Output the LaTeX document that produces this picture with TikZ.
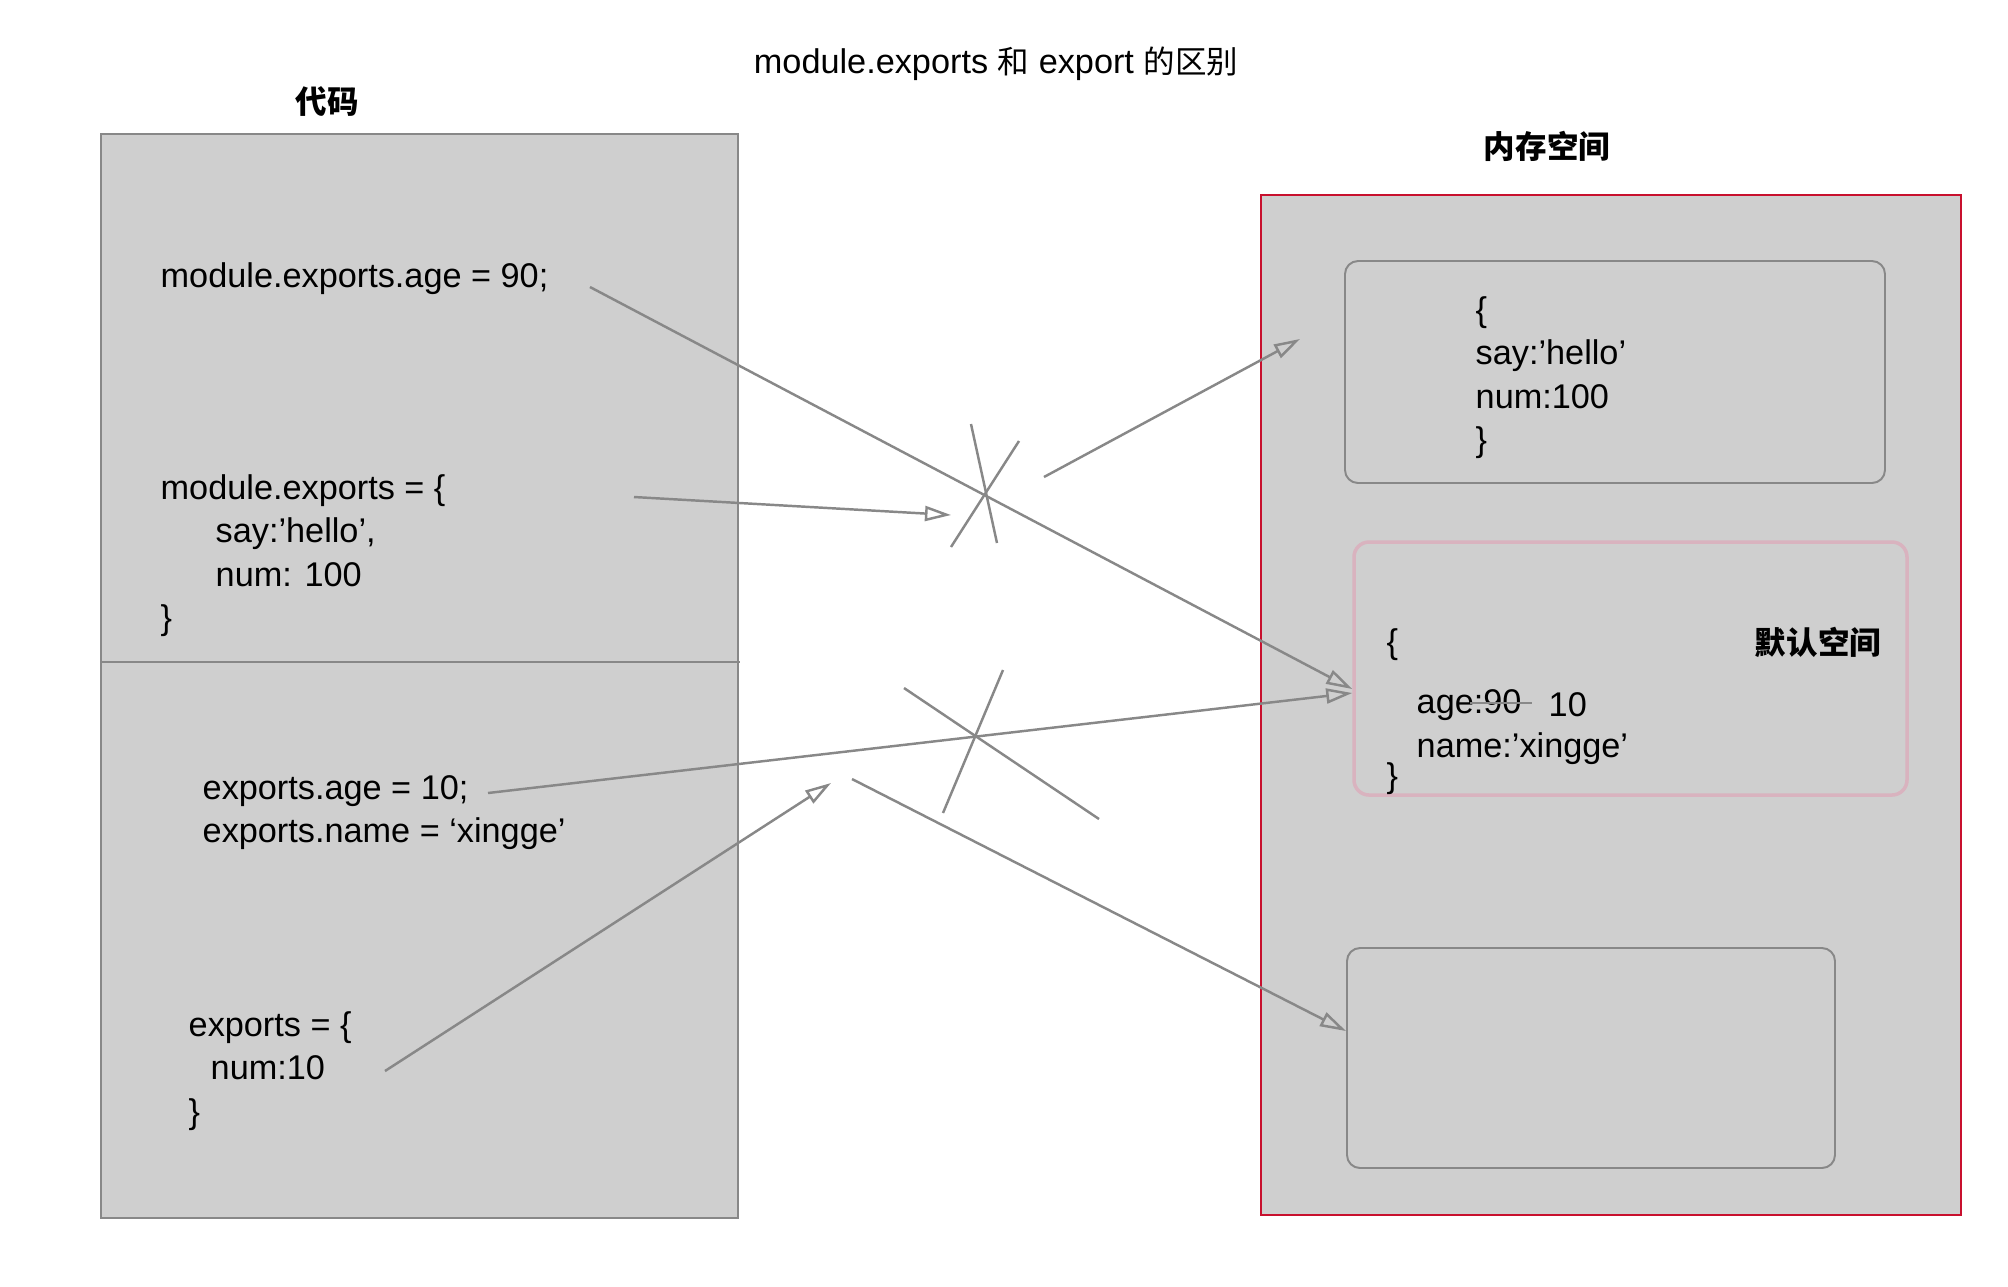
\documentclass[tikz,border=0pt]{standalone}
\usepackage{fontspec}
\setmainfont{Liberation Sans}
\newfontfamily\cjk[Scale=0.92]{Noto Sans CJK SC}
\usetikzlibrary{arrows.meta, positioning}

\definecolor{panelgray}{HTML}{CFCFCF}
\definecolor{linegray}{HTML}{888888}
\definecolor{memred}{HTML}{C8102E}
\definecolor{defpink}{HTML}{D9B3BF}

\begin{document}
\begin{tikzpicture}[
  every node/.style={font=\fontsize{9.75}{12.4}\selectfont},
  panel/.style={draw=linegray, line width=0.55pt, fill=panelgray, inner sep=0pt},
  membox/.style={draw=memred, line width=0.7pt, fill=panelgray, inner sep=0pt},
  objbox/.style={draw=linegray, line width=0.55pt, rounded corners=1.3mm, inner sep=0pt},
  defbox/.style={objbox, draw=defpink, line width=1pt, rounded corners=1.5mm},
  src/.style={anchor=west, align=left, inner sep=0pt, yshift=-0.4mm},
  lbl/.style={inner sep=0pt, yshift=-0.4mm},
  flow/.style={-{Triangle[open, length=2.6mm, width=1.5mm]}, draw=linegray, line width=0.7pt},
  cross/.style={draw=linegray, line width=0.7pt}
]
\useasboundingbox (0,0) rectangle (20.08,-12.86);

% titles
\node[lbl] (title) at (9.96,-0.60) {module.exports {\cjk 和} export {\cjk 的区别}};
\node[lbl] (codetitle) at (3.27,-0.98) {\cjk\bfseries 代码};
\node[lbl] (memtitle) at (15.47,-1.42) {\cjk\bfseries 内存空间};

% code panel
\node[panel, minimum width=6.37cm, minimum height=10.84cm] (code) at (4.195,-6.76) {};
\draw[draw=linegray, line width=0.55pt] (1.01,-6.62) -- (7.40,-6.62);

\node[src] (mage) at (1.60,-2.75) {module.exports.age = 90;};
\node[src] (mobj) at (1.60,-5.515) {module.exports = \{\\
\hspace*{0.55cm}say:’hello’,\\
\hspace*{0.55cm}num: 100\\
\}};
\node[src] (eage) at (2.02,-8.085) {exports.age = 10;\\
exports.name = ‘xingge’};
\node[src] (eobj) at (1.88,-10.67) {exports = \{\\
\hspace*{0.22cm}num:10\\
\}};

% memory panel
\node[membox, minimum width=7.00cm, minimum height=10.20cm] (mem) at (16.11,-7.05) {};
\node[objbox, minimum width=5.40cm, minimum height=2.22cm] (newobj) at (16.15,-3.72) {};
\node[defbox, minimum width=5.53cm, minimum height=2.53cm] (defobj) at (16.305,-6.685) {};
\node[objbox, minimum width=4.88cm, minimum height=2.20cm] (emptyobj) at (15.91,-10.58) {};

\node[src] (newtxt) at (14.75,-3.735) {\{\\
say:’hello’\\
num:100\\
\}};
\node[src] (open) at (13.86,-6.41) {\{};
\node[src] (age) at (14.16,-7.01) {age:90};
\node[src] (ten) at (15.48,-7.01) {10};
\node[src] (name) at (14.16,-7.45) {name:’xingge’};
\node[src] (close) at (13.86,-7.75) {\}};
\node[lbl] (deftitle) at (18.18,-6.38) {\cjk\bfseries 默认空间};
\draw[cross] (14.70,-7.03) -- (15.32,-7.03);

% free ends
\coordinate (s1) at (5.90,-2.87);
\coordinate (s2) at (6.34,-4.97);
\coordinate (t2) at (9.51,-5.15);
\coordinate (s3) at (10.44,-4.77);
\coordinate (t3) at (13.00,-3.39);
\coordinate (s5) at (4.88,-7.93);
\coordinate (s6) at (3.85,-10.71);
\coordinate (t6) at (8.31,-7.83);
\coordinate (s7) at (8.52,-7.79);

% arrows
\draw[flow] (s1) -- ([yshift=-0.205cm]defobj.west);
\draw[flow] (s2) -- (t2);
\draw[flow] (s3) -- (t3);
\draw[flow] (s5) -- ([yshift=-0.245cm]defobj.west);
\draw[flow] (s6) -- (t6);
\draw[flow] (s7) -- ([yshift=0.27cm]emptyobj.west);

% crossed out
\draw[cross] (9.71,-4.24) -- (9.97,-5.43);
\draw[cross] (10.19,-4.41) -- (9.51,-5.47);
\draw[cross] (9.04,-6.88) -- (10.99,-8.19);
\draw[cross] (10.03,-6.70) -- (9.43,-8.13);

\end{tikzpicture}
\end{document}
